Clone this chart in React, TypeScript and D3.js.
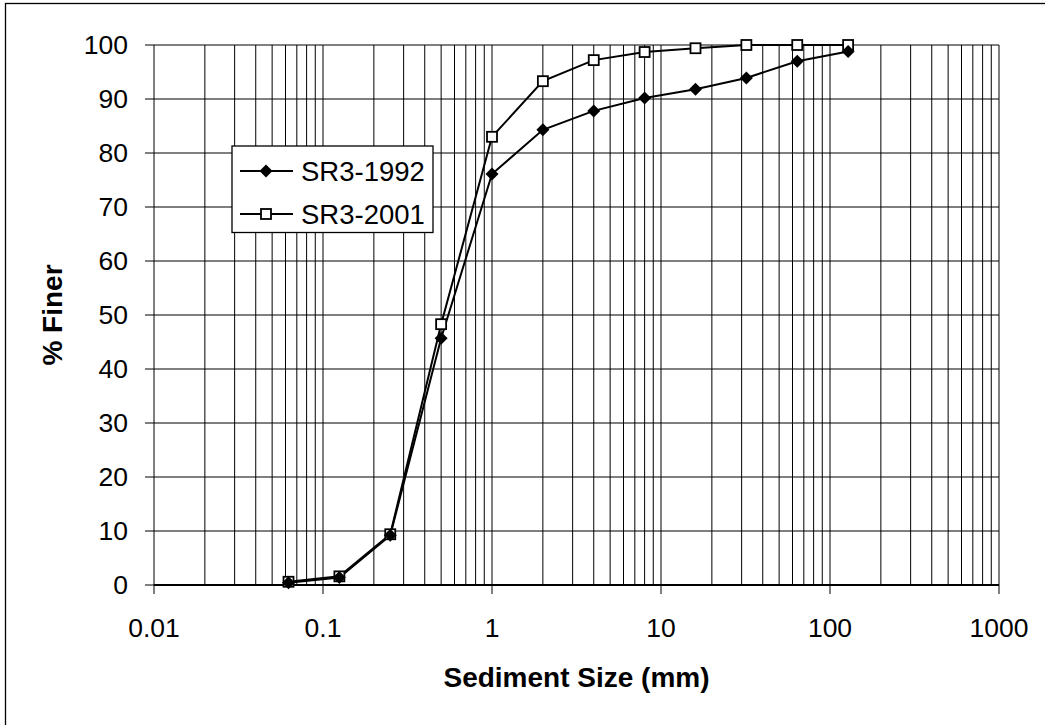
import React from "react";
import * as d3 from "d3";

const sizes = [0.0625, 0.125, 0.25, 0.5, 1, 2, 4, 8, 16, 32, 64, 128];
const finer1992 = [0.4, 1.4, 9.2, 45.7, 76.1, 84.3, 87.8, 90.2, 91.8, 93.9, 97.0, 98.8];
const finer2001 = [0.6, 1.6, 9.4, 48.3, 83.0, 93.3, 97.2, 98.7, 99.4, 100, 100, 100];
const xTicks = [0.01, 0.1, 1, 10, 100, 1000];
const yTicks = [0, 10, 20, 30, 40, 50, 60, 70, 80, 90, 100];
const seriesNames = ["SR3-1992", "SR3-2001"];

const W = 1045;
const H = 725;
const L = 154, R = 999, T = 45, B = 585;
const FONT = "Arial, 'Liberation Sans', sans-serif";

export default function App() {
  const x = d3.scaleLog().domain([0.01, 1000]).range([L, R]);
  const y = d3.scaleLinear().domain([0, 100]).range([B, T]);

  const minor: number[] = [];
  for (let e = -2; e < 3; e++) {
    for (let m = 2; m <= 9; m++) minor.push(m * Math.pow(10, e));
  }

  const line = d3
    .line<[number, number]>()
    .x((d) => x(d[0]))
    .y((d) => y(d[1]));

  const d1 = sizes.map((s, i) => [s, finer1992[i]] as [number, number]);
  const d2 = sizes.map((s, i) => [s, finer2001[i]] as [number, number]);

  const diamond = (cx: number, cy: number, r = 6.5) =>
    `M${cx},${cy - r}L${cx + r},${cy}L${cx},${cy + r}L${cx - r},${cy}Z`;

  return (
    <svg
      width={W}
      height={H}
      style={{ position: "absolute", left: 0, top: 0, background: "#fff" }}
      fontFamily={FONT}
    >
      <rect x={5.5} y={3.5} width={W} height={H} fill="#fff" stroke="#000" strokeWidth={1.3} />

      {/* minor vertical grid */}
      {minor.map((v, i) => (
        <line key={"m" + i} x1={x(v)} x2={x(v)} y1={T} y2={B} stroke="#000" strokeWidth={1} />
      ))}
      {/* major vertical grid */}
      {xTicks.map((v, i) => (
        <line key={"M" + i} x1={x(v)} x2={x(v)} y1={T} y2={B + 9} stroke="#000" strokeWidth={1} />
      ))}
      {/* horizontal grid */}
      {yTicks.map((v, i) => (
        <line key={"h" + i} x1={L - 9} x2={R} y1={y(v)} y2={y(v)} stroke="#000" strokeWidth={1} />
      ))}
      {/* x axis line */}
      <line x1={L} x2={R} y1={B} y2={B} stroke="#000" strokeWidth={2} />

      {/* y tick labels */}
      {yTicks.map((v, i) => (
        <text key={"yt" + i} x={128} y={y(v)} dy="0.35em" textAnchor="end" fontSize={26.5}>
          {v}
        </text>
      ))}
      {/* x tick labels */}
      {xTicks.map((v, i) => (
        <text key={"xt" + i} x={x(v)} y={628} dy="0.35em" textAnchor="middle" fontSize={26.5}>
          {String(v)}
        </text>
      ))}

      {/* series lines */}
      <path d={line(d2) || ""} fill="none" stroke="#000" strokeWidth={2} />
      <path d={line(d1) || ""} fill="none" stroke="#000" strokeWidth={2} />

      {d2.map((d, i) => (
        <rect
          key={"p2" + i}
          x={x(d[0]) - 5}
          y={y(d[1]) - 5}
          width={10}
          height={10}
          fill="#fff"
          stroke="#000"
          strokeWidth={1.8}
        />
      ))}
      {d1.map((d, i) => (
        <path key={"p1" + i} d={diamond(x(d[0]), y(d[1]))} fill="#000" />
      ))}

      {/* legend */}
      <rect x={232} y={146} width={201} height={86.5} fill="#fff" stroke="#000" strokeWidth={1.3} />
      <line x1={240} x2={293} y1={171} y2={171} stroke="#000" strokeWidth={2} />
      <path d={diamond(266, 171)} fill="#000" />
      <text x={301} y={171} dy="0.35em" fontSize={27.5}>
        {seriesNames[0]}
      </text>
      <line x1={240} x2={293} y1={214} y2={214} stroke="#000" strokeWidth={2} />
      <rect x={261} y={209} width={10} height={10} fill="#fff" stroke="#000" strokeWidth={1.8} />
      <text x={301} y={214} dy="0.35em" fontSize={27.5}>
        {seriesNames[1]}
      </text>

      {/* axis titles */}
      <text x={(L + R) / 2} y={677} dy="0.35em" textAnchor="middle" fontSize={28} fontWeight="bold">
        Sediment Size (mm)
      </text>
      <text
        transform={`translate(52,${(T + B) / 2}) rotate(-90)`}
        dy="0.35em"
        textAnchor="middle"
        fontSize={28}
        fontWeight="bold"
      >
        % Finer
      </text>
    </svg>
  );
}
